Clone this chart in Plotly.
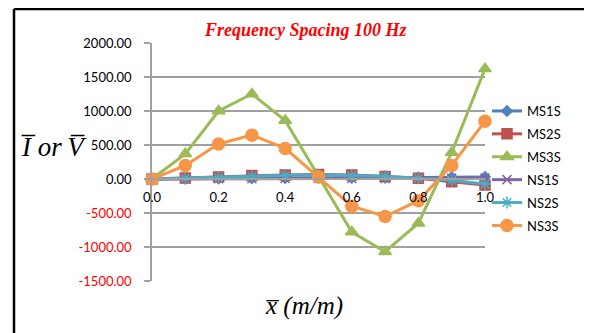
import plotly.graph_objects as go

x_vals = [0.0, 0.1, 0.2, 0.3, 0.4, 0.5, 0.6, 0.7, 0.8, 0.9, 1.0]
ms1s = [0, 5, 8, 12, 15, 18, 20, 20, 22, 25, 30]
ms2s = [0, 15, 30, 50, 60, 65, 60, 35, 10, -40, -90]
ms3s = [0, 370, 1000, 1250, 860, 50, -780, -1070, -650, 390, 1620]
ns1s = [0, 2, 4, 5, 6, 8, 8, 8, 8, 10, 15]
ns2s = [0, 10, 20, 40, 55, 60, 50, 40, 10, -20, -75]
ns3s = [0, 200, 515, 645, 450, 30, -400, -550, -320, 200, 850]

series_names = ["MS1S", "MS2S", "MS3S", "NS1S", "NS2S", "NS3S"]
series_vals = [ms1s, ms2s, ms3s, ns1s, ns2s, ns3s]
colors = ["#4F81BD", "#C0504D", "#9BBB59", "#8064A2", "#4BACC6", "#F79646"]
symbols = ["diamond", "square", "triangle-up", "x-thin-open", "asterisk-open", "circle"]
msizes = [8, 10, 11, 9, 10, 12]

y_tickvals = [2000, 1500, 1000, 500, 0, -500, -1000, -1500]
y_ticktext = ["2000.00", "1500.00", "1000.00", "500.00", "0.00", "-500.00", "-1000.00", "-1500.00"]
x_tickvals = [0.0, 0.2, 0.4, 0.6, 0.8, 1.0]
x_ticktext = ["0.0", "0.2", "0.4", "0.6", "0.8", "1.0"]

title_text = "Frequency Spacing 100 Hz"
y_title = "I\u0305 or\u2009V\u0305"
x_title = "x\u0305 (m/m)"

fig = go.Figure()
for name, vals, c, s, ms in zip(series_names, series_vals, colors, symbols, msizes):
    fig.add_trace(go.Scatter(
        x=x_vals, y=vals, name=name, mode="lines+markers",
        line=dict(color=c, width=3),
        marker=dict(symbol=s, size=ms, color=c, line=dict(color=c, width=1.5)),
        legendgroup=name, cliponaxis=False,
    ))

# page body has an 8px margin; work in window pixels and shift
OFF = 8
W, H = 592 - OFF, 333 - OFF
plot_l, plot_r, plot_t, plot_b = 152, 485, 43, 281  # window px
ml, mr, mt, mb = plot_l - OFF, W - (plot_r - OFF), plot_t - OFF, H - (plot_b - OFF)
pw, ph = W - ml - mr, H - mt - mb

def px_x(p):
    return (p - OFF - ml) / pw

def px_y(p):
    return (H - mb - (p - OFF)) / ph

ylo, yhi = -1500, 2000
zero_pos = (0 - ylo) / (yhi - ylo)

tick_text_colored = [
    (f'<span style="color:#FF0000">{t}</span>' if v < 0 else t)
    for v, t in zip(y_tickvals, y_ticktext)
]

frame = dict(color="black", width=2.5)

fig.update_layout(
    width=W, height=H,
    margin=dict(l=ml, r=mr, t=mt, b=mb),
    paper_bgcolor="white", plot_bgcolor="white",
    font=dict(family="Lato", size=13, color="black"),
    showlegend=True,
    legend=dict(x=px_x(487), y=px_y(96), xanchor="left", yanchor="top",
                font=dict(family="Lato", size=13, color="black"),
                tracegroupgap=3, bgcolor="rgba(0,0,0,0)"),
    xaxis=dict(range=[0, 1], anchor="free", position=zero_pos,
               tickvals=x_tickvals, ticktext=x_ticktext,
               showgrid=False, zeroline=False, showline=True,
               linecolor="#A0A0A0", linewidth=1.5,
               ticks="", ticklabelstandoff=7,
               tickfont=dict(family="Lato", size=13, color="black")),
    yaxis=dict(range=[ylo, yhi], tickvals=y_tickvals, ticktext=tick_text_colored,
               showgrid=True, gridcolor="#A0A0A0", gridwidth=1.5,
               zeroline=False, showline=True, linecolor="#A0A0A0", linewidth=1.5,
               ticks="outside", ticklen=6, tickcolor="#A0A0A0", tickwidth=1.5,
               ticklabelstandoff=10,
               tickfont=dict(family="Lato", size=13, color="black")),
    shapes=[
        dict(type="line", xref="paper", yref="paper",
             x0=px_x(14), x1=px_x(600), y0=px_y(9), y1=px_y(9), line=frame),
        dict(type="line", xref="paper", yref="paper",
             x0=px_x(14), x1=px_x(14), y0=px_y(9), y1=px_y(345), line=frame),
    ],
    annotations=[
        dict(text=f"<b><i>{title_text}</i></b>", xref="paper", yref="paper",
             x=px_x(305), y=px_y(30), xanchor="center", yanchor="middle", showarrow=False,
             font=dict(family="Liberation Serif", size=18, color="#FF0000")),
        dict(text=f"<i>{y_title}</i>", xref="paper", yref="paper",
             x=px_x(54), y=px_y(147), xanchor="center", yanchor="middle", showarrow=False,
             font=dict(family="Liberation Serif", size=27, color="black")),
        dict(text=f"<i>{x_title}</i>", xref="paper", yref="paper",
             x=px_x(304), y=px_y(306), xanchor="center", yanchor="middle", showarrow=False,
             font=dict(family="Liberation Serif", size=25, color="black")),
    ],
)

fig.write_html("out.html")
